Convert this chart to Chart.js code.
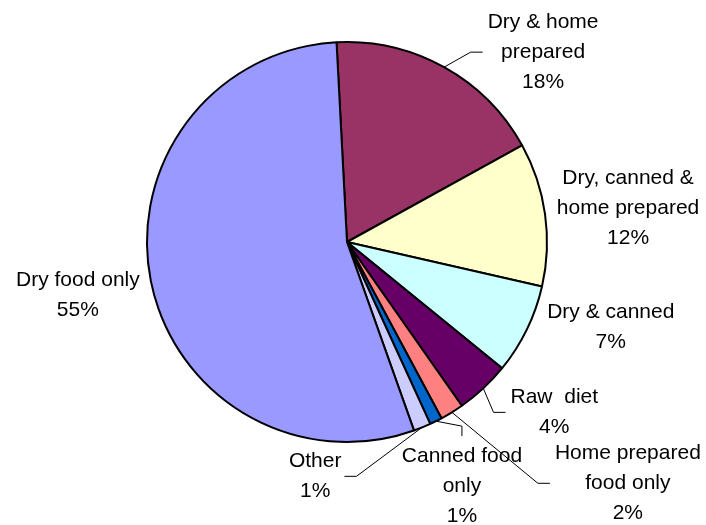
<!DOCTYPE html>
<html>
<head>
<meta charset="utf-8">
<script src="https://cdn.jsdelivr.net/npm/chart.js@4/dist/chart.umd.min.js"></script>
<style>
  html, body { margin: 0; padding: 0; background: #ffffff; }
  #wrap { width: 706px; height: 525px; }
</style>
</head>
<body>
<div id="wrap"><canvas id="pie-chart" width="706" height="525"></canvas></div>
<script>
'use strict';

// >>> chart data <<<
let categories = [
  'Dry & home\nprepared',
  'Dry, canned &\nhome prepared',
  'Dry & canned',
  'Raw  diet',
  'Home prepared\nfood only',
  'Canned food\nonly',
  'Other',
  'Dry food only'
];
let shares = [17.8, 11.6, 7.3, 4.4, 1.9, 1.0, 1.4, 54.6];
let sliceColors = ['#993366', '#FFFFCC', '#CCFFFF', '#660066', '#FF8080', '#0066CC', '#CCCCFF', '#9999FF'];

// label placement: offset of the text block from the slice's mid point on the rim
let labelOffsets = [
  [99, -16], [83, -7], [84, -4], [71, 23], [176, 70], [26, 64], [-107, 48], [-73, 13]
];
// leader line type for each label
let leaderTypes = ['side', null, null, 'side', 'side', 'top', 'side', null];

const FONT_SIZE = 21;
const LINE_H = 30;

// >>> plugin that draws the data labels + leader lines <<<
const pieLabels = {
  id: 'pieLabels',
  afterDatasetsDraw(chart) {
    const ctx = chart.ctx;
    const meta = chart.getDatasetMeta(0);
    const data = chart.data.datasets[0].data;
    const total = data.reduce((a, b) => a + b, 0);

    ctx.save();
    ctx.font = FONT_SIZE + 'px Arial, "Liberation Sans", sans-serif';
    ctx.fillStyle = '#000000';
    ctx.strokeStyle = '#000000';
    ctx.lineWidth = 1;
    ctx.textAlign = 'center';
    ctx.textBaseline = 'alphabetic';

    meta.data.forEach((arc, i) => {
      const mid = (arc.startAngle + arc.endAngle) / 2;
      const px = arc.x + Math.cos(mid) * arc.outerRadius;
      const py = arc.y + Math.sin(mid) * arc.outerRadius;
      const cx = px + labelOffsets[i][0];
      const cy = py + labelOffsets[i][1];

      const lines = chart.data.labels[i].split('\n');
      lines.push(Math.round(data[i] / total * 100) + '%');

      let maxW = 0;
      lines.forEach(l => { maxW = Math.max(maxW, ctx.measureText(l).width); });

      lines.forEach((l, j) => {
        const base = cy + (j - (lines.length - 1) / 2) * LINE_H + 7;
        ctx.fillText(l, cx, base);
      });

      // leader lines
      const type = leaderTypes[i];
      if (type === 'side') {
        const right = cx > px;
        const endX = right ? cx - maxW / 2 - 5 : cx + maxW / 2 + 3;
        const elbowX = right ? endX - 12 : endX + 12;
        ctx.beginPath();
        ctx.moveTo(px, py);
        ctx.lineTo(elbowX, cy + 1);
        ctx.lineTo(endX, cy + 1);
        ctx.stroke();
      } else if (type === 'top') {
        const topY = cy - (lines.length - 1) / 2 * LINE_H + 7 - 15 - 11;
        ctx.beginPath();
        ctx.moveTo(px, py);
        ctx.lineTo(cx, topY - 10);
        ctx.lineTo(cx, topY);
        ctx.stroke();
      }
    });
    ctx.restore();
  }
};

let canvasElement = document.getElementById('pie-chart').getContext('2d');

let myChart = new Chart(canvasElement, {
  type: 'pie',
  data: {
    labels: categories,
    datasets: [{
      data: shares,
      backgroundColor: sliceColors,
      borderColor: '#000000',
      borderWidth: 2
    }]
  },
  options: {
    responsive: false,
    animation: false,
    rotation: -3,
    radius: 200,
    layout: {
      padding: { left: 147, top: 42, right: 159, bottom: 83 }
    },
    events: [],
    plugins: {
      legend: { display: false },
      tooltip: { enabled: false }
    }
  },
  plugins: [pieLabels]
});
</script>
</body>
</html>
